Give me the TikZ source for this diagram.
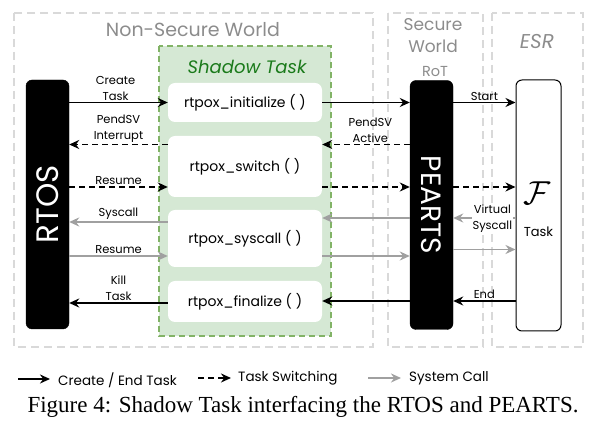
\documentclass[tikz,border=0pt]{standalone}
\usepackage{fontspec}
\setmainfont{Poppins}
\newfontfamily\capfont{Liberation Serif}
\usetikzlibrary{arrows.meta,calc}
\definecolor{zonegray}{HTML}{D9D9D9}
\definecolor{titlegray}{HTML}{8C8C8C}
\definecolor{shfill}{HTML}{D5E8D4}
\definecolor{shdraw}{HTML}{82B366}
\definecolor{shtext}{HTML}{1A7A1A}
\definecolor{sysgray}{HTML}{A0A0A0}
\begin{document}
\begin{tikzpicture}[x=1pt,y=-1pt,
  zone/.style={draw=zonegray,line width=1.2pt,dash pattern=on 8pt off 5pt},
  ztitle/.style={text=titlegray,font=\fontsize{19}{22}\selectfont,align=center},
  blackbox/.style={fill=black,draw=black,rounded corners=6pt,minimum width=43pt,minimum height=249pt,inner sep=0pt},
  fnbox/.style={fill=white,rounded corners=7pt,minimum width=154pt,inner sep=0pt,font=\fontsize{14}{16}\selectfont},
  solidarr/.style={line width=1.7pt,-{Stealth[length=10pt,width=9pt]}},
  dasharr/.style={line width=1.7pt,dash pattern=on 6pt off 4pt,-{Stealth[length=10pt,width=9pt]}},
  grayarr/.style={line width=1.7pt,draw=sysgray,-{Stealth[length=10pt,width=9pt,fill=sysgray]}},
  lbl/.style={font=\fontsize{11.5}{16}\selectfont,align=center,inner sep=1.5pt},
  legtext/.style={anchor=west,font=\fontsize{13.5}{15}\selectfont,inner sep=0pt},
]
\useasboundingbox (0,0) rectangle (595,435);
% zones
\draw[zone] (14,13) rectangle (373,347);
\draw[zone] (388,13) rectangle (483,347);
\draw[zone] (492,13) rectangle (583,347);
\node[ztitle] (nsw) at (193,30) {Non-Secure World};
\node[ztitle,font=\fontsize{17}{22}\selectfont] (sw) at (433,36) {Secure\\World};
\node[ztitle,font=\itshape\fontsize{20}{22}\selectfont] (esrt) at (537,42) {ESR};
\node[ztitle,font=\fontsize{14.5}{16}\selectfont] (rot) at (435,72) {RoT};
% shadow task
\draw[fill=shfill,draw=shdraw,line width=1.5pt,dash pattern=on 6pt off 4pt] (159,46) rectangle (331,336);
\node[text=shtext,font=\itshape\fontsize{18}{20}\selectfont] (sht) at (247,67) {Shadow Task};
\node[fnbox,minimum height=39pt] (init) at (245,102.5) {rtpox\_initialize ( )};
\node[fnbox,minimum height=61pt] (swi) at (245,166.5) {rtpox\_switch ( )};
\node[fnbox,minimum height=57pt] (sys) at (245,238.5) {rtpox\_syscall ( )};
\node[fnbox,minimum height=41pt] (fin) at (245,301.5) {rtpox\_finalize ( )};
% black bars
\node[blackbox] (rtos) at (47.5,204.5) {};
\node[rotate=90,text=white,font=\fontsize{31}{33}\selectfont] (rtost) at (rtos) {RTOS};
\node[blackbox] (pearts) at (431.5,205) {};
\node[rotate=-90,text=white,font=\fontsize{28}{30}\selectfont] (peartst) at (pearts) {PEARTS};
\node[draw=black,line width=1pt,fill=white,rounded corners=6pt,minimum width=45pt,minimum height=251pt,inner sep=0pt] (esr) at (538.5,205.5) {};
\node[scale=1.6,font=\fontsize{20}{22}\selectfont] (ff) at (537,193) {$\mathcal{F}$};
\node[font=\fontsize{13}{15}\selectfont] (tsk) at (538.5,232) {Task};
% coordinates
\coordinate (swa) at ($(swi.west)+(0,-22)$);
\coordinate (swb) at ($(swi.west)+(0,20.5)$);
\coordinate (sya) at ($(sys.west)+(0,-16.5)$);
\coordinate (syb) at ($(sys.west)+(0,17.5)$);
\coordinate (syc) at ($(sys.west)+(0,-20.5)$);
\coordinate (syd) at ($(sys.west)+(0,11)$);
\coordinate (fina) at ($(fin.west)+(0,1.5)$);
\coordinate (finb) at ($(fin.west)+(0,-0.5)$);
% left arrows
\draw[solidarr] (rtos.east |- init.west) -- node[lbl,above,xshift=-3pt] {Create\\Task} (init.west);
\draw[dasharr] (swa) -- node[lbl,above] {PendSV\\Interrupt} (rtos.east |- swa);
\draw[dasharr] (rtos.east |- swb) -- node[lbl,above] {Resume} (swb);
\draw[grayarr] (sya) -- node[lbl,above] {Syscall} (rtos.east |- sya);
\draw[grayarr] (rtos.east |- syb) -- node[lbl,above] {Resume} (syb);
\draw[solidarr] (fina) -- node[lbl,above] {Kill\\Task} (rtos.east |- fina);
% middle arrows
\draw[solidarr] (init.east) -- (pearts.west |- init.east);
\draw[dasharr] (pearts.west |- swa) -- node[lbl,above,pos=0.45] {PendSV\\Active} (swi.east |- swa);
\draw[dasharr] (swi.east |- swb) -- (pearts.west |- swb);
\draw[grayarr] (pearts.west |- syc) -- (sys.east |- syc);
\draw[grayarr] (sys.east |- syb) -- (pearts.west |- syb);
\draw[solidarr] (pearts.west |- finb) -- (fin.east |- finb);
% right arrows
\draw[solidarr] (pearts.east |- init.east) -- node[lbl,above] {Start} (esr.west |- init.east);
\draw[dasharr] (pearts.east |- swb) -- (esr.west |- swb);
\draw[grayarr] (esr.west |- syc) -- node[lbl,fill=white,pos=0,anchor=east,inner sep=0.5pt,xshift=-2pt,yshift=-1pt] {Virtual\\Syscall} (pearts.east |- syc);
\draw[grayarr] (pearts.east |- syd) -- (esr.west |- syd);
\draw[solidarr] (esr.west |- finb) -- node[lbl,above] {End} (pearts.east |- finb);
% legend
\coordinate (l1a) at (18,379); \coordinate (l1b) at (50,379);
\coordinate (l2a) at (198,378); \coordinate (l2b) at (231,378);
\coordinate (l3a) at (368,378); \coordinate (l3b) at (401,378);
\draw[solidarr] (l1a) -- (l1b);
\node[legtext] (lt1) at (58,380) {Create / End Task};
\draw[dasharr] (l2a) -- (l2b);
\node[legtext] (lt2) at (238,378) {Task Switching};
\draw[grayarr] (l3a) -- (l3b);
\node[legtext] (lt3) at (409,378) {System Call};
\node[font=\capfont\fontsize{23}{26}\selectfont] (cap) at (303,407) {Figure 4: Shadow Task interfacing the RTOS and PEARTS.};
\end{tikzpicture}
\end{document}
